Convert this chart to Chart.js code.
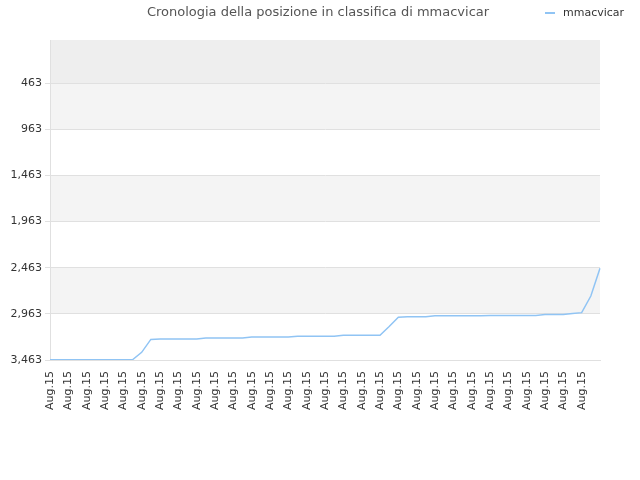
<!DOCTYPE html>
<html>
<head>
<meta charset="utf-8">
<script src="https://cdn.jsdelivr.net/npm/chart.js@4"></script>
<style>
  body { margin: 0; background: #fff; font-family: "DejaVu Sans", sans-serif; }
  #wrap { position: relative; width: 640px; height: 480px; }
  #title { position: absolute; top: 4px; left: 0; width: 636px; text-align: center; font-size: 13px; color: #555; }
  #legend { position: absolute; top: 6px; left: 545px; font-size: 11px; color: #333; }
  #legend span { display: inline-block; width: 10px; height: 2px; background: #90c4f4; vertical-align: middle; margin-right: 8px; }
</style>
</head>
<body>
<div id="wrap">
  <canvas id="c" width="640" height="480"></canvas>
  <div id="title">Cronologia della posizione in classifica di mmacvicar</div>
  <div id="legend"><span></span>mmacvicar</div>
</div>
<script>
// ─── DATA ───────────────────────────────────
const rankValues = [
  3460, 3460, 3460, 3460, 3460, 3460, 3460, 3460, 3460, 3460,
  3380, 3240, 3235, 3235, 3235, 3235, 3235, 3225, 3225, 3225,
  3225, 3225, 3215, 3215, 3215, 3215, 3215, 3205, 3205, 3205,
  3205, 3205, 3195, 3195, 3195, 3195, 3195, 3100, 3000, 2995,
  2995, 2995, 2985, 2985, 2985, 2985, 2985, 2985, 2980, 2980,
  2980, 2980, 2980, 2980, 2970, 2970, 2970, 2960, 2950, 2770,
  2470
];
const dateLabels = rankValues.map(() => 'Aug.15');
const yTicks = [463, 963, 1463, 1963, 2463, 2963, 3463];
const bandColors = ['#eeeeee', '#f4f4f4', '#ffffff', '#f4f4f4', '#ffffff', '#f4f4f4', '#ffffff'];

// ─── BANDS ───────────────────────────────────
const bandPlugin = {
  id: 'bands',
  beforeDraw(chart) {
    const { ctx, chartArea: a, scales: { y } } = chart;
    const edges = [y.min].concat(yTicks);
    ctx.save();
    for (let i = 0; i < bandColors.length; i++) {
      const y0 = y.getPixelForValue(edges[i]);
      const y1 = i + 1 < edges.length ? y.getPixelForValue(edges[i + 1]) : a.bottom;
      ctx.fillStyle = bandColors[i];
      ctx.fillRect(a.left, y0, a.right - a.left, y1 - y0);
    }
    ctx.restore();
  }
};

new Chart(document.getElementById('c').getContext('2d'), {
  type: 'line',
  data: {
    labels: dateLabels,
    datasets: [{
      label: 'mmacvicar',
      data: rankValues,
      borderColor: '#90c4f4',
      borderWidth: 1.5,
      pointRadius: 0,
      tension: 0,
      fill: false
    }]
  },
  options: {
    responsive: false,
    animation: false,
    layout: { padding: { top: 40, right: 40, left: 0, bottom: 0 } },
    plugins: { legend: { display: false }, title: { display: false }, tooltip: { enabled: false } },
    scales: {
      y: {
        reverse: true,
        min: -3,
        max: 3463,
        afterBuildTicks: s => { s.ticks = yTicks.map(v => ({ value: v })); },
        afterFit: s => { s.width = 50; },
        grid: { color: '#e0e0e0', drawTicks: true, tickLength: 5 },
        border: { color: '#e0e0e0' },
        ticks: { color: '#333', font: { size: 11, family: 'DejaVu Sans' } }
      },
      x: {
        offset: false,
        afterFit: s => { s.height = 120; },
        grid: { display: false },
        border: { color: '#e0e0e0' },
        ticks: {
          color: '#333',
          font: { size: 11, family: 'DejaVu Sans' },
          maxRotation: 90, minRotation: 90,
          autoSkip: false,
          callback: (v, i) => (i % 2 === 0 && i < 60) ? dateLabels[i] : null
        }
      }
    }
  },
  plugins: [bandPlugin]
});
</script>
</body>
</html>
